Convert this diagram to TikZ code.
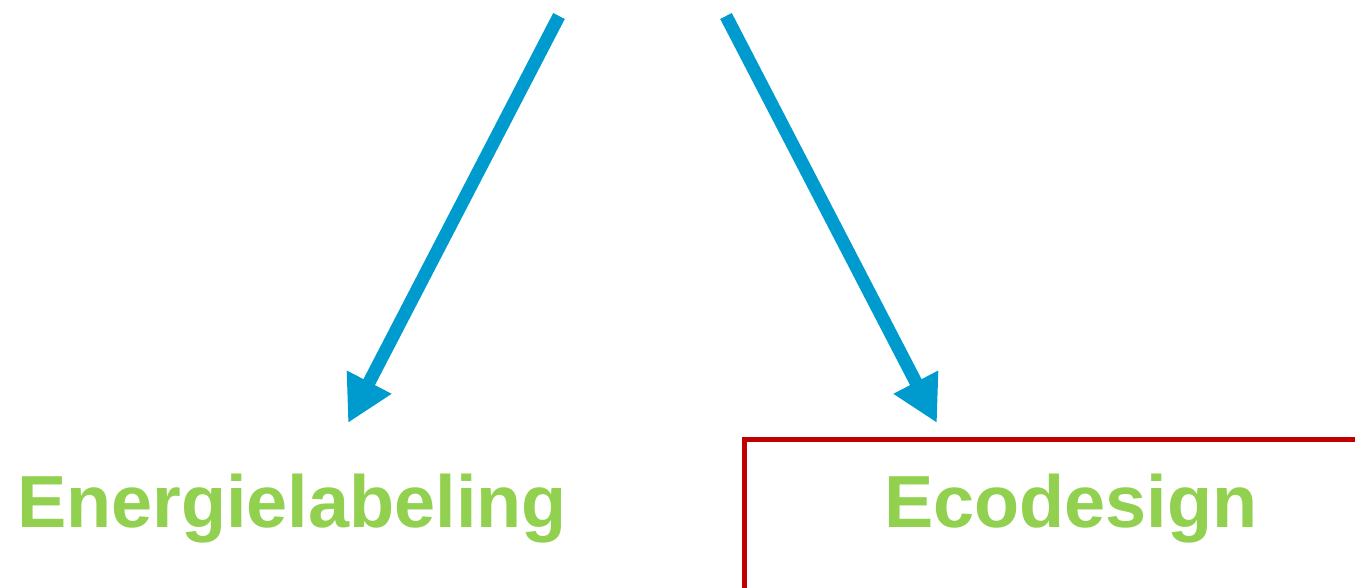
\documentclass[tikz,border=0pt]{standalone}
\usepackage{fontspec}
\setmainfont{Liberation Sans}
\usetikzlibrary{arrows.meta}
\definecolor{pijlblauw}{HTML}{009BCE}
\definecolor{labelgroen}{HTML}{92D050}
\definecolor{kaderrood}{HTML}{C00000}
\tikzset{
  pijl/.style={draw=pijlblauw, line width=0.13cm,
    -{Triangle[length=0.46cm, width=0.47cm]}},
  titel/.style={text=labelgroen, font=\fontsize{21}{25}\selectfont\bfseries,
    anchor=base, inner sep=0pt}
}
\begin{document}
\begin{tikzpicture}[x=0.01cm, y=-0.01cm]
        \clip (0,0) rectangle (1355,587);
        \coordinate (bronL) at (559,16);
        \coordinate (bronR) at (726,16);
        \coordinate (puntL) at (348,423);
        \coordinate (puntR) at (937,423);
        \node[titel] (energie) at (292,527) {Energielabeling};
        \node[titel] (eco) at (1071,527) {Ecodesign};
        \draw[kaderrood, line width=0.05cm] (744.5,640) |- (1400,439.5);
        \draw[pijl] (bronL) -- (puntL);
        \draw[pijl] (bronR) -- (puntR);
    \end{tikzpicture}
\end{document}
